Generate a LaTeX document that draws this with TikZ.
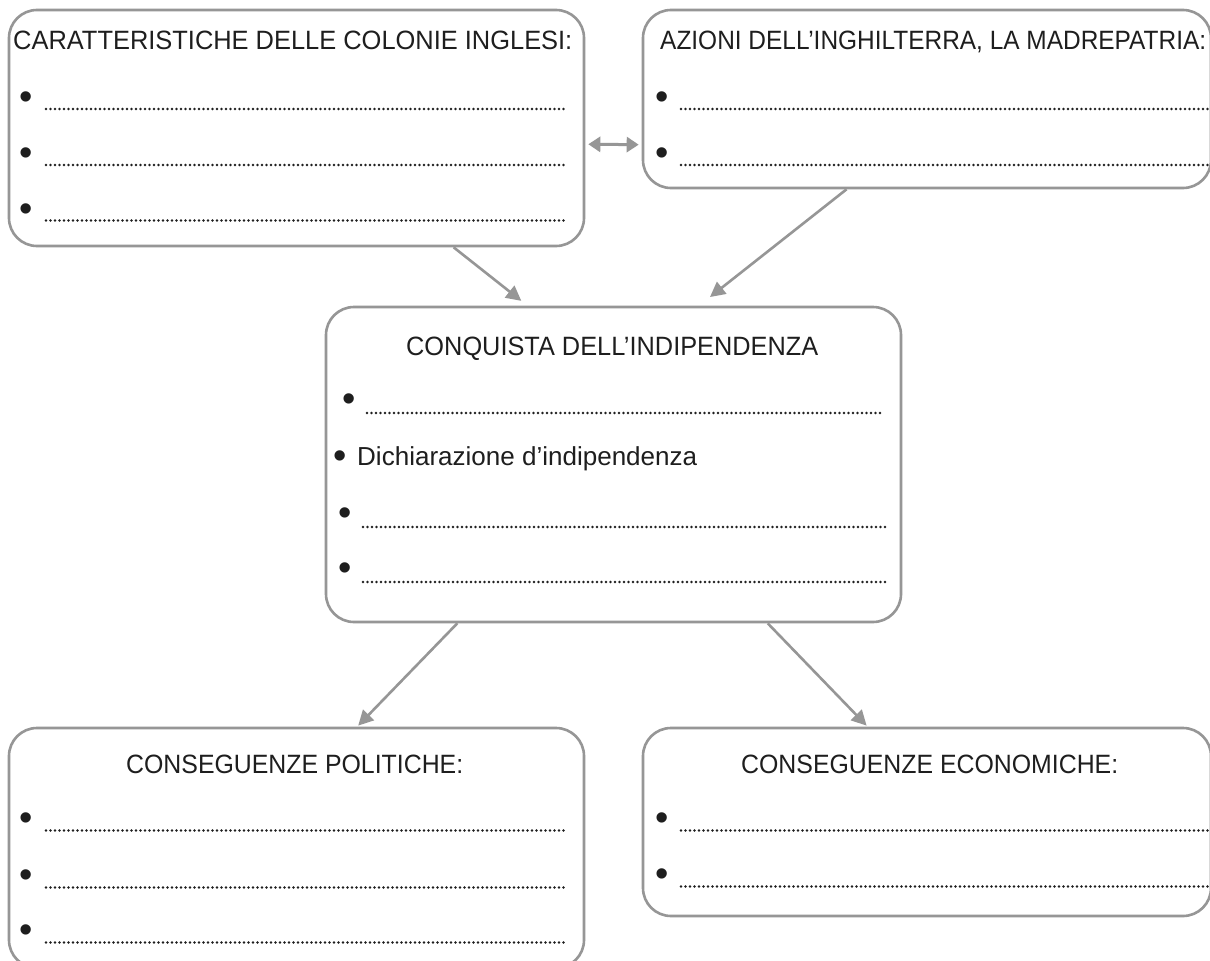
\documentclass[tikz,border=0pt]{standalone}
\usepackage{fontspec}
\setmainfont{Liberation Sans}
\usetikzlibrary{arrows.meta,calc}
\definecolor{linegray}{RGB}{150,150,150}
\definecolor{ink}{RGB}{30,30,30}
\begin{document}
\begin{tikzpicture}[x=1pt,y=-1pt,
  box/.style={draw=linegray, line width=2.6pt, rounded corners=28pt, fill=white, inner sep=0pt},
  arr/.style={draw=linegray, line width=2.6pt, -{Triangle[length=15pt,width=15pt]}},
  dblarr/.style={draw=linegray, line width=3pt, {Triangle[length=12pt,width=15pt]}-{Triangle[length=12pt,width=15pt]}},
  dotline/.style={draw=ink, line width=2.6pt, dash pattern=on 0pt off 4.5pt, line cap=round},
  bul/.style={anchor=base, inner sep=0pt, text=ink, font=\fontsize{38}{38}\selectfont},
  ttl/.style={anchor=base west, inner sep=0pt, text=ink}]
\useasboundingbox (0,0) rectangle (1210,961);
\clip (0,0) rectangle (1210,961);
\fill[white] (0,0) rectangle (1210,961);

% boxes
\node[box, minimum width=575pt, minimum height=236pt] (b1) at (296.5,128) {};
\node[box, minimum width=568pt, minimum height=178pt] (b2) at (927,99) {};
\node[box, minimum width=575pt, minimum height=315pt] (b3) at (613.5,464.5) {};
\node[box, minimum width=575pt, minimum height=240pt] (b4) at (296.5,848) {};
\node[box, minimum width=568pt, minimum height=188pt] (b5) at (927,822) {};

% titles
\node[ttl] (t1) at (13,49) {\resizebox{559pt}{18.5pt}{CARATTERISTICHE DELLE COLONIE INGLESI:}};
\node[ttl] (t2) at (660,49) {\resizebox{546pt}{18.5pt}{AZIONI DELL’INGHILTERRA, LA MADREPATRIA:}};
\node[ttl] (t3) at (406,355) {\resizebox{412pt}{18.5pt}{CONQUISTA DELL’INDIPENDENZA}};
\node[ttl] (t4) at (126,773) {\resizebox{337pt}{18.5pt}{CONSEGUENZE POLITICHE:}};
\node[ttl] (t5) at (741,773) {\resizebox{377pt}{18.5pt}{CONSEGUENZE ECONOMICHE:}};

% box 1 items
\node[bul] (b1i1) at (26,109.6) {•};
\node[bul] (b1i2) at (26,165.6) {•};
\node[bul] (b1i3) at (26,221.2) {•};
\draw[dotline] (46,109) -- (567,109);
\draw[dotline] (46,165) -- (567,165);
\draw[dotline] (46,220.5) -- (567,220.5);

% box 2 items
\node[bul] (b2i1) at (662,109.9) {•};
\node[bul] (b2i2) at (662,165.9) {•};
\draw[dotline] (681,109) -- (1214,109);
\draw[dotline] (681,165) -- (1214,165);

% box 3 items
\node[bul] (b3i1) at (349,411.9) {•};
\draw[dotline] (367,413) -- (882,413);
\node[bul] (b3i2) at (340,468.9) {•};
\node[ttl] (b3t2) at (357,465) {\resizebox{340pt}{!}{Dichiarazione d’indipendenza}};
\node[bul] (b3i3) at (345,525.9) {•};
\draw[dotline] (363,527) -- (886,527);
\node[bul] (b3i4) at (345,580.9) {•};
\draw[dotline] (363,582) -- (886,582);

% box 4 items
\node[bul] (b4i1) at (26,830.9) {•};
\node[bul] (b4i2) at (26,887.9) {•};
\node[bul] (b4i3) at (26,942.9) {•};
\draw[dotline] (46,830.5) -- (567,830.5);
\draw[dotline] (46,887.5) -- (567,887.5);
\draw[dotline] (46,942.5) -- (567,942.5);

% box 5 items
\node[bul] (b5i1) at (662,830.9) {•};
\node[bul] (b5i2) at (662,886.9) {•};
\draw[dotline] (681,830.5) -- (1214,830.5);
\draw[dotline] (681,886.5) -- (1214,886.5);

% connectors
\draw[dblarr, shorten <=3pt, shorten >=3pt]
  ($(b1.north east)!0.568!(b1.south east)$) -- ($(b2.north west)!0.753!(b2.south west)$);
\draw[arr, shorten >=7.8pt]
  ($(b1.south west)!0.772!(b1.south east)$) -- ($(b3.north west)!0.351!(b3.north east)$);
\draw[arr, shorten >=14pt]
  ($(b2.south west)!0.359!(b2.south east)$) -- ($(b3.north west)!0.648!(b3.north east)$);
\draw[arr, shorten >=1.5pt]
  ($(b3.south west)!0.2296!(b3.south east)$) -- ($(b4.north west)!0.605!(b4.north east)$);
\draw[arr, shorten >=1.5pt]
  ($(b3.south west)!0.767!(b3.south east)$) -- ($(b5.north west)!0.396!(b5.north east)$);
\end{tikzpicture}
\end{document}
